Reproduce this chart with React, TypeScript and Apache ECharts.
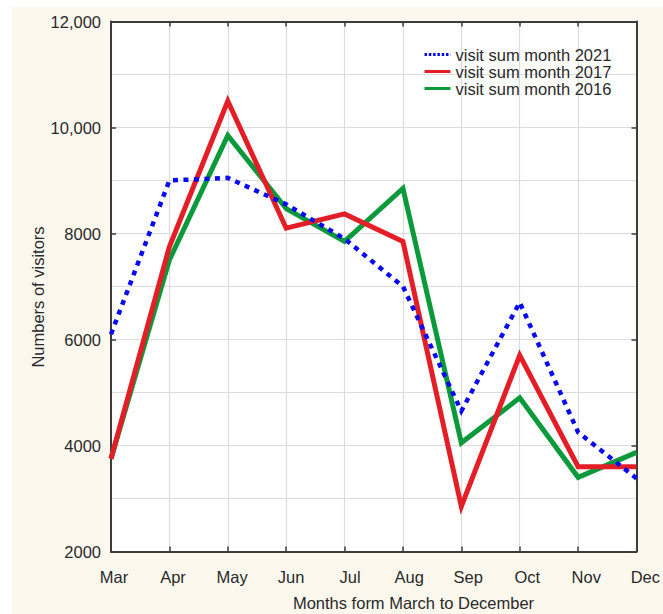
import React, { useEffect, useRef } from "react";
import * as echarts from "echarts";

const months = ["Mar", "Apr", "May", "Jun", "Jul", "Aug", "Sep", "Oct", "Nov", "Dec"];
const visits2021 = [6100, 9000, 9050, 8550, 7900, 7000, 4650, 6700, 4250, 3380];
const visits2017 = [3750, 7750, 10500, 8100, 8370, 7850, 2850, 5700, 3600, 3600];
const visits2016 = [3750, 7500, 9850, 8470, 7850, 8850, 4050, 4900, 3400, 3870];
const yMin = 2000;
const yMax = 12000;
const yStep = 2000;

const name2021 = "visit sum month 2021";
const name2017 = "visit sum month 2017";
const name2016 = "visit sum month 2016";

const FONT = "'Liberation Sans', Arial, sans-serif";
const FRAME = "#3c3c3c";
const GRIDC = "#dcdcdc";
const TEXTC = "#2a2a2a";

function fmt(v: number): string {
  return v >= 10000 ? String(v).replace(/\B(?=(\d{3})+(?!\d))/g, ",") : String(v);
}

export default function App() {
  const ref = useRef<HTMLDivElement>(null);
  useEffect(() => {
    if (!ref.current) return;
    const chart = echarts.init(ref.current, null, { renderer: "svg" });
    const frameAxisLine = { show: true, lineStyle: { color: FRAME, width: 2 } };
    const tickIn = { show: true, inside: true, length: 5, lineStyle: { color: FRAME, width: 1.5 } };
    chart.setOption({
      animation: false,
      textStyle: { fontFamily: FONT },
      grid: [
        { left: 111, right: 26.5, top: 21.5, bottom: 62.5, show: true, backgroundColor: "#ffffff", borderWidth: 0 },
        { left: 114, right: 13, top: 21.5, bottom: 62.5, show: false },
      ],
      legend: {
        orient: "vertical",
        left: 423,
        top: 46,
        padding: 0,
        itemGap: 0,
        itemWidth: 26,
        itemHeight: 10,
        itemStyle: { opacity: 0 },
        textStyle: { fontSize: 16.5, color: TEXTC, fontFamily: FONT, lineHeight: 16 },
        data: [
          { name: name2021, itemStyle: { opacity: 0 }, lineStyle: { width: 3, type: [2.5, 1.8] } },
          { name: name2017, itemStyle: { opacity: 0 }, lineStyle: { width: 3 } },
          { name: name2016, itemStyle: { opacity: 0 }, lineStyle: { width: 3 } },
        ],
      },
      xAxis: [
        {
          type: "category",
          gridIndex: 0,
          data: months,
          boundaryGap: false,
          axisLine: frameAxisLine,
          axisTick: tickIn,
          axisLabel: { show: false },
          splitLine: { show: true, lineStyle: { color: GRIDC, width: 1.2 } },
        },
        {
          type: "category",
          gridIndex: 0,
          position: "top",
          data: months,
          boundaryGap: false,
          axisLine: frameAxisLine,
          axisTick: tickIn,
          axisLabel: { show: false },
          splitLine: { show: false },
        },
        {
          type: "category",
          gridIndex: 1,
          data: months,
          boundaryGap: false,
          axisLine: { show: false },
          axisTick: { show: false },
          axisLabel: { show: true, fontSize: 16.5, color: TEXTC, margin: 17, fontFamily: FONT },
          splitLine: { show: false },
        },
      ],
      yAxis: [
        {
          type: "value",
          gridIndex: 0,
          min: yMin,
          max: yMax,
          interval: yStep,
          axisLine: frameAxisLine,
          axisTick: tickIn,
          axisLabel: { fontSize: 16.5, color: TEXTC, margin: 10, formatter: fmt, fontFamily: FONT },
          splitLine: { show: true, lineStyle: { color: GRIDC, width: 1.2 } },
          minorTick: { show: false, splitNumber: 2 },
          minorSplitLine: { show: true, lineStyle: { color: GRIDC, width: 1.2 } },
        },
        {
          type: "value",
          gridIndex: 0,
          position: "right",
          min: yMin,
          max: yMax,
          interval: yStep,
          axisLine: frameAxisLine,
          axisTick: tickIn,
          axisLabel: { show: false },
          splitLine: { show: false },
        },
        { type: "value", gridIndex: 1, show: false },
      ],
      graphic: [
        {
          type: "text",
          x: 413.5,
          y: 603,
          style: {
            text: "Months form March to December",
            fontSize: 16.5,
            fontFamily: FONT,
            fill: TEXTC,
            textAlign: "center",
            textVerticalAlign: "middle",
          },
        },
        {
          type: "text",
          x: 37.5,
          y: 297,
          rotation: Math.PI / 2,
          style: {
            text: "Numbers of visitors",
            fontSize: 16.5,
            fontFamily: FONT,
            fill: TEXTC,
            textAlign: "center",
            textVerticalAlign: "middle",
          },
        },
      ],
      series: [
        {
          name: name2016,
          type: "line",
          xAxisIndex: 0,
          yAxisIndex: 0,
          data: visits2016,
          symbol: "none",
          color: "#0b9a3b",
          lineStyle: { color: "#0b9a3b", width: 5, join: "miter", miterLimit: 10 },
          z: 3,
        },
        {
          name: name2017,
          type: "line",
          xAxisIndex: 0,
          yAxisIndex: 0,
          data: visits2017,
          symbol: "none",
          color: "#e41e26",
          lineStyle: { color: "#e41e26", width: 5, join: "miter", miterLimit: 10 },
          z: 4,
        },
        {
          name: name2021,
          type: "line",
          xAxisIndex: 0,
          yAxisIndex: 0,
          data: visits2021,
          symbol: "none",
          color: "#0a0af0",
          lineStyle: { color: "#0a0af0", width: 4.5, type: [5, 5.5], cap: "butt", join: "miter" },
          z: 5,
        },
      ],
    });
    return () => chart.dispose();
  }, []);
  return (
    <div
      ref={ref}
      style={{
        position: "absolute",
        left: 0,
        top: 0,
        width: 663,
        height: 614,
        background: "linear-gradient(#fcf8ee,#fcf8ee) 12px 7px / 651px 607px no-repeat, #ffffff",
      }}
    />
  );
}
